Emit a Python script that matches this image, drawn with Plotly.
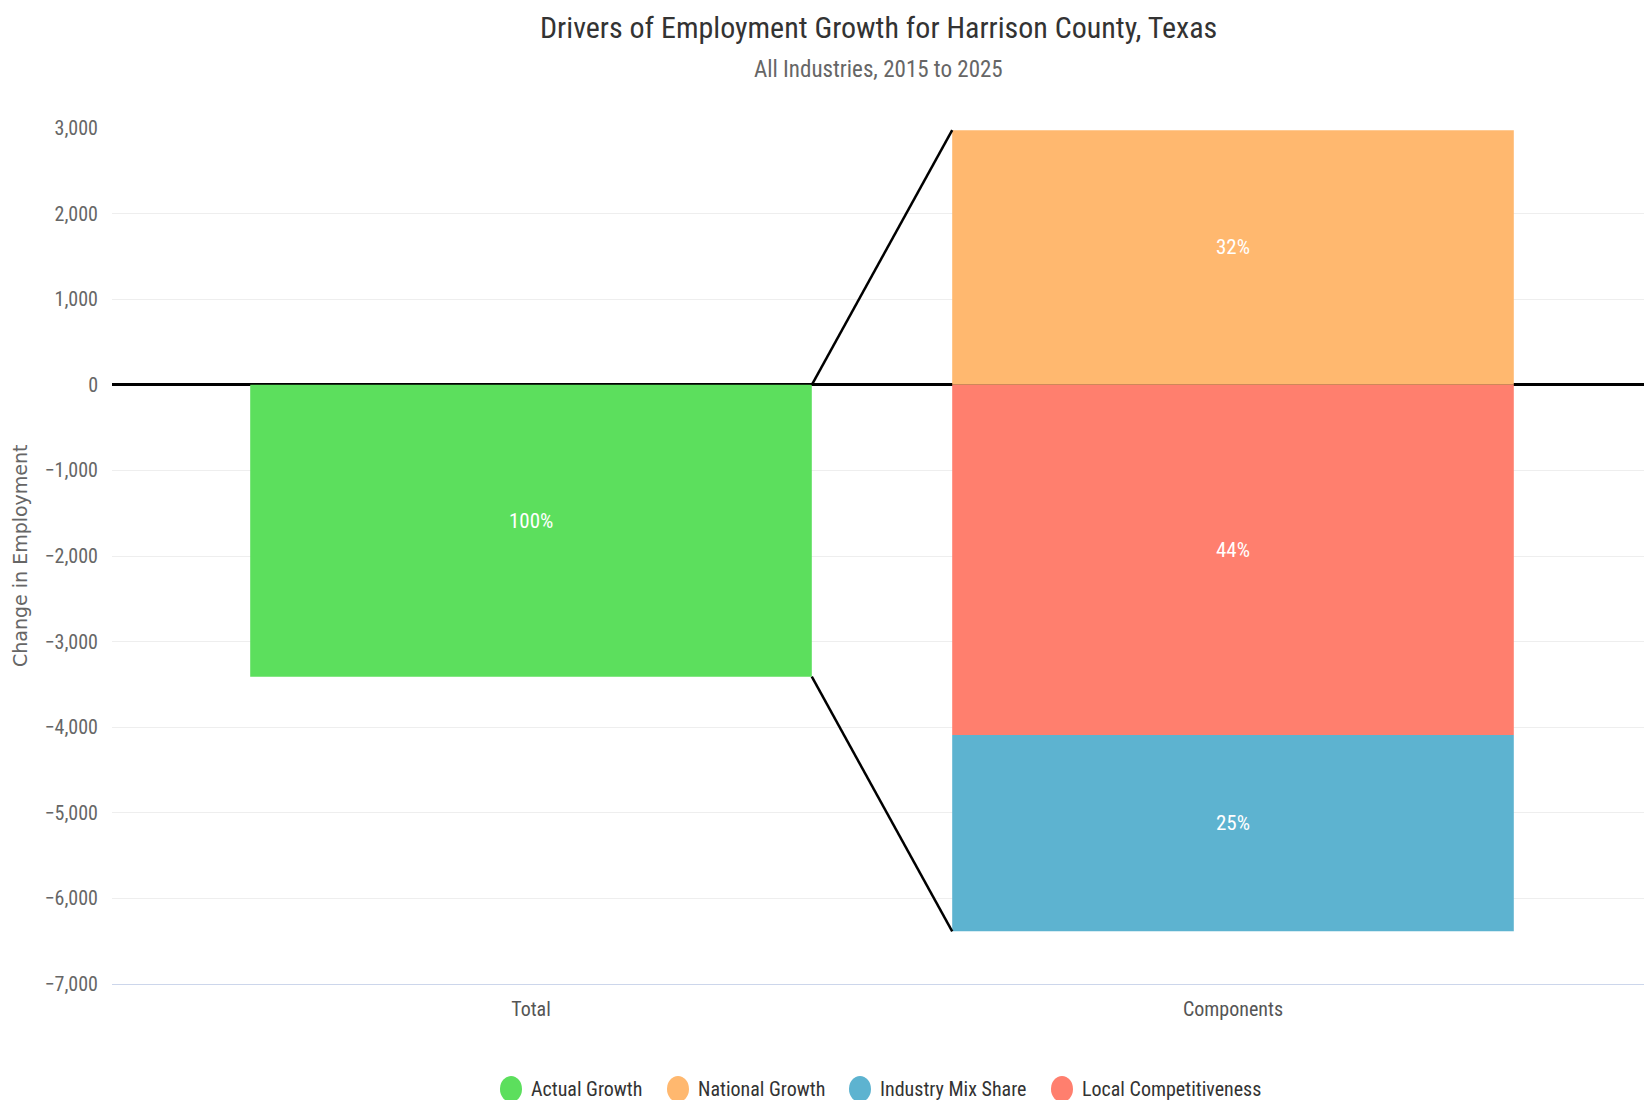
import plotly.graph_objects as go

# ---- data ----
categories = ["Total", "Components"]
actual_growth = [-3410, None]
national_growth = [None, 2975]
local_competitiveness = [None, -4090]
industry_mix = [None, -2295]
pct_actual = "100%"
pct_national = "32%"
pct_local = "44%"
pct_industry = "25%"
legend_names = ["Actual Growth", "National Growth", "Industry Mix Share", "Local Competitiveness"]
y_ticks = [3000, 2000, 1000, 0, -1000, -2000, -3000, -4000, -5000, -6000, -7000]

GREEN = "#5cdf5d"
ORANGE = "#ffb86f"
BLUE = "#5db3d0"
RED = "#ff7f6e"
FONT = "Roboto Condensed, Liberation Sans Narrow, Roboto, sans-serif"

# page geometry (the page body adds an 8px offset)
W, H = 1636, 1092
L, T, B, R = 104, 120, 116, 0
PW, PH = W - L - R, H - T - B

BAR_W = 0.8
fig = go.Figure()

def add_bar(vals, color, name):
    fig.add_trace(go.Bar(
        x=categories, y=vals, width=BAR_W, marker=dict(color=color, line=dict(width=0)),
        name=name, showlegend=False, hoverinfo="y+name",
    ))

add_bar(actual_growth, GREEN, "Actual Growth")
add_bar(national_growth, ORANGE, "National Growth")
add_bar(local_competitiveness, RED, "Local Competitiveness")
add_bar(industry_mix, BLUE, "Industry Mix Share")

# percentage labels in the middle of each segment
total = actual_growth[0]
nat = national_growth[1]
loc = local_competitiveness[1]
ind = industry_mix[1]
label_specs = [
    (categories[0], total / 2, pct_actual),
    (categories[1], nat / 2, pct_national),
    (categories[1], loc / 2, pct_local),
    (categories[1], loc + ind / 2, pct_industry),
]
for cx, cy, txt in label_specs:
    fig.add_annotation(x=cx, y=cy, text=txt, showarrow=False, yshift=10,
                       font=dict(color="white", size=21, family=FONT))

# connector lines from the Total bar to the Components stack
x_left = 0 + BAR_W / 2
x_right = 1 - BAR_W / 2
bottom = loc + ind
for y0, y1 in [(0, nat), (total, bottom)]:
    fig.add_shape(type="line", xref="x", yref="y", x0=x_left, x1=x_right, y0=y0, y1=y1,
                  line=dict(color="black", width=2.5), layer="above")

# manual legend with round symbols
legend_colors = [GREEN, ORANGE, BLUE, RED]
legend_px = [511, 678, 860, 1062]        # symbol centres on screen
legend_y = (H - B - (1089 - 8)) / PH     # paper fraction
for nm, col, px in zip(legend_names, legend_colors, legend_px):
    xf = (px - 8 - L) / PW
    fig.add_shape(type="circle", xref="paper", yref="paper", xsizemode="pixel", ysizemode="pixel",
                  xanchor=xf, yanchor=legend_y, x0=-11, x1=11, y0=-13, y1=13,
                  fillcolor=col, line=dict(width=0))
    fig.add_annotation(text=nm, xref="paper", yref="paper", x=(px + 18 - 8 - L) / PW, y=legend_y,
                       xanchor="left", yanchor="middle", showarrow=False,
                       font=dict(size=20, color="#333333", family=FONT))

fig.update_layout(
    width=W, height=H,
    barmode="relative",
    plot_bgcolor="white", paper_bgcolor="white",
    margin=dict(l=L, r=R, t=T, b=B),
    font=dict(family=FONT, color="#666666", size=20),
    showlegend=False,
)
# title and subtitle
fig.add_annotation(text="Drivers of Employment Growth for Harrison County, Texas",
                   xref="paper", yref="paper", x=0.5, y=1 + T / PH,
                   xanchor="center", yanchor="top", showarrow=False,
                   font=dict(size=30, color="#333333", family=FONT))
fig.add_annotation(text="All Industries, 2015 to 2025", xref="paper", yref="paper",
                   x=0.5, y=1 + (T - 62) / PH, xanchor="center", yanchor="middle",
                   showarrow=False, font=dict(size=23, color="#666666", family=FONT))
fig.add_annotation(text="Change in Employment", xref="paper", yref="paper",
                   x=(12 - L) / PW, y=0.5, xanchor="center", yanchor="middle", textangle=-90,
                   showarrow=False, font=dict(size=19, color="#666666", family="DejaVu Sans, sans-serif"))

fig.update_xaxes(range=[(112 - 531) / 702, (1644 - 531) / 702], showgrid=False, showline=True,
                 linecolor="#ccd6eb", linewidth=1, ticks="",
                 tickfont=dict(size=20, color="#555555"), ticklabelstandoff=7)
fig.update_yaxes(range=[-7000, 3000], tickvals=y_ticks, tickformat=",d",
                 showgrid=True, gridcolor="#eeeeee", gridwidth=1,
                 zeroline=True, zerolinecolor="black", zerolinewidth=3,
                 ticks="", tickfont=dict(size=20, color="#666666"), ticklabelstandoff=13)

fig.write_html("out.html")
